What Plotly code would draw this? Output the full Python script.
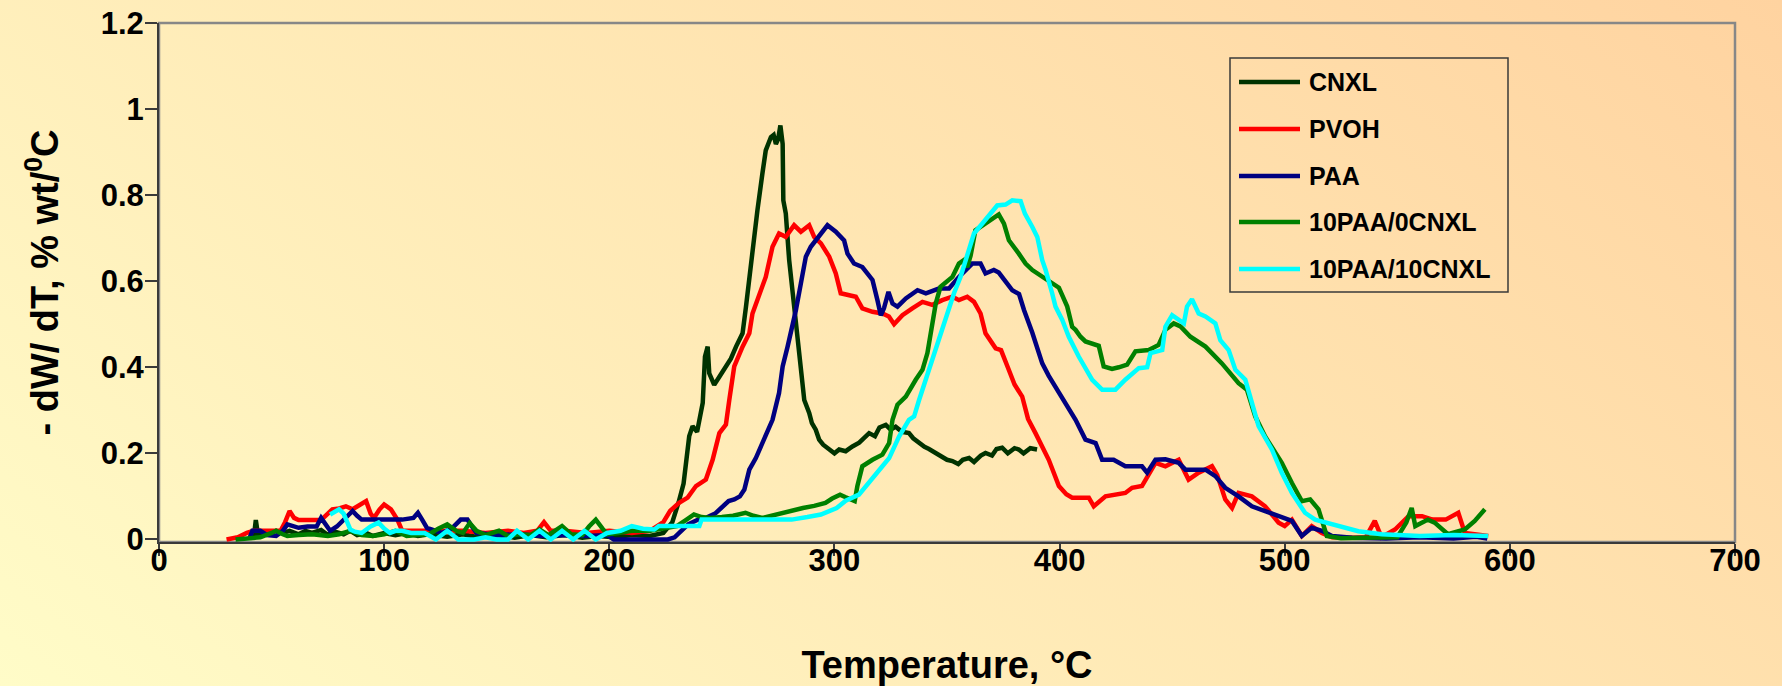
import base64
import plotly.graph_objects as go

# ---------------- data ----------------
cnxl_T = [42, 43, 44, 48, 52, 55, 58, 62, 65, 68, 72, 75, 78, 82, 85, 88, 92, 95, 100, 105,
          110, 115, 120, 128, 135, 142, 150, 158, 165, 172, 180, 188, 195, 202, 210, 218, 224,
          228, 231, 233, 235.5, 237, 239, 241.5, 242.5, 243.7, 244.4, 246.6, 248.9, 251.8, 254,
          256.3, 259.2, 260.7, 262, 263.6, 265.8, 268, 269.5, 271.8, 273, 274, 275, 276, 277,
          277.3, 278.4, 279.9, 281.4, 282.9, 285.1, 286.6, 288.8, 290, 291.7, 293.2, 295, 297.7,
          300, 302.1, 305, 308, 311, 315.4, 318, 320, 322.8, 325, 327.2, 330, 333.1, 335, 337.6,
          340, 342, 345, 348, 350, 352.4, 355, 357, 359.8, 362, 365, 367.1, 370, 372, 374.5, 377,
          380, 381.9, 384, 387, 390]
cnxl_Y = [0.0, 0.045, 0.01, 0.012, 0.02, 0.015, 0.02, 0.012, 0.02, 0.015, 0.022, 0.01, 0.018,
          0.012, 0.02, 0.01, 0.015, 0.008, 0.015, 0.01, 0.015, 0.008, 0.012, 0.006, 0.012, 0.005,
          0.01, 0.004, 0.01, 0.005, 0.01, 0.004, 0.008, 0.005, 0.01, 0.008, 0.015, 0.04, 0.09,
          0.13, 0.24, 0.263, 0.25, 0.317, 0.425, 0.448, 0.386, 0.359, 0.378, 0.40, 0.42, 0.448,
          0.479, 0.54, 0.60, 0.672, 0.765, 0.85, 0.904, 0.935, 0.94, 0.919, 0.93, 0.962, 0.919,
          0.788, 0.757, 0.649, 0.572, 0.494, 0.402, 0.324, 0.294, 0.27, 0.255, 0.232, 0.22,
          0.209, 0.20, 0.209, 0.205, 0.216, 0.225, 0.247, 0.24, 0.26, 0.266, 0.255, 0.262, 0.25,
          0.247, 0.235, 0.224, 0.215, 0.21, 0.201, 0.19, 0.185, 0.182, 0.175, 0.185, 0.189, 0.18,
          0.195, 0.201, 0.195, 0.21, 0.213, 0.2, 0.212, 0.209, 0.2, 0.212, 0.209]

pvoh_T = [30, 35, 39, 42, 48, 54, 56, 58, 60, 62, 67, 72, 75, 77, 80, 83, 86, 89, 92, 94, 95.5,
          98, 100, 103, 106, 108, 115, 125, 135, 145, 155, 162, 168, 171, 174, 180, 190, 200,
          210, 218, 224, 227, 231, 234.8, 238.5, 242.9, 245.9, 248.9, 251.8, 253.3, 255.5, 259.2,
          262.2, 263.6, 266.6, 269.5, 272.5, 275.4, 278.4, 280, 282.1, 285.1, 288.8, 291, 294,
          297.7, 300.6, 302.8, 306.5, 309.5, 312.4, 316.9, 321.3, 324.2, 326.5, 330.2, 334.6,
          339.1, 343.5, 347.9, 352.4, 355.3, 359, 362, 364.9, 367.1, 371.6, 374, 377, 380, 383.4,
          386, 389.3, 392, 395.2, 399.7, 403, 405.6, 413, 415.2, 420.4, 429.2, 432.2, 436.6,
          442.6, 447, 452.9, 457.3, 461.8, 467.7, 470, 473.6, 476.6, 479.5, 485.4, 491.3, 497.3,
          500, 503.2, 507.6, 512, 516.5, 521, 530, 536, 540, 543, 549, 555, 561, 565.6, 571.5,
          577.1, 580, 590.4]
pvoh_Y = [0.0, 0.005, 0.015, 0.02, 0.02, 0.02, 0.04, 0.066, 0.05, 0.045, 0.045, 0.045, 0.06,
          0.07, 0.072, 0.077, 0.07, 0.08, 0.089, 0.06, 0.05, 0.07, 0.081, 0.07, 0.045, 0.02, 0.02,
          0.018, 0.02, 0.015, 0.02, 0.015, 0.02, 0.04, 0.02, 0.02, 0.015, 0.02, 0.015, 0.02, 0.04,
          0.066, 0.085, 0.097, 0.124, 0.139, 0.185, 0.247, 0.267, 0.324, 0.402, 0.448, 0.479,
          0.525, 0.572, 0.61, 0.68, 0.711, 0.703, 0.715, 0.73, 0.715, 0.73, 0.703, 0.688, 0.657,
          0.618, 0.572, 0.568, 0.564, 0.537, 0.529, 0.525, 0.518, 0.50, 0.521, 0.537, 0.552,
          0.545, 0.556, 0.564, 0.556, 0.564, 0.552, 0.525, 0.479, 0.444, 0.44, 0.40, 0.36, 0.332,
          0.28, 0.247, 0.22, 0.185, 0.124, 0.105, 0.097, 0.097, 0.077, 0.10, 0.108, 0.12, 0.124,
          0.178, 0.17, 0.185, 0.139, 0.155, 0.17, 0.15, 0.093, 0.073, 0.108, 0.10, 0.077, 0.039,
          0.031, 0.046, 0.008, 0.031, 0.015, 0.005, 0.004, 0.005, 0.043, 0.005, 0.023, 0.054,
          0.054, 0.046, 0.046, 0.062, 0.015, 0.008]

paa_T = [40, 41.5, 45, 48, 52, 55, 57, 62, 66, 70, 72, 74, 76, 79, 82, 86, 88, 90, 100, 108,
         113, 115, 117, 119, 125.5, 130, 134, 137, 139, 141, 150, 160, 170, 180, 190, 199, 202,
         215, 226, 229, 232, 235, 239, 243, 247, 250, 253, 255.5, 258, 260, 262.2, 265.1, 268,
         272.5, 275.4, 277, 279.2, 281.4, 282.9, 285.1, 287.3, 289.5, 293.2, 296.9, 300.6, 304.3,
         305.8, 308.7, 312.4, 316.9, 319.1, 320.6, 322, 324, 325.8, 328, 331.7, 336.9, 340.6,
         346.4, 350.9, 355.3, 361.2, 364.9, 367.1, 370.8, 373, 376, 379, 382, 384.2, 387.9,
         392.3, 395.2, 398.2, 402.6, 407.1, 411.5, 416, 418.9, 424, 429.2, 436.6, 438.9, 442.6,
         447, 452.9, 455.9, 464.8, 469.2, 473.6, 479.5, 485.4, 491.3, 498.7, 503.2, 507.6, 512,
         516.5, 521, 530, 545, 560, 575, 585, 590]
paa_Y = [0.0, 0.02, 0.02, 0.01, 0.008, 0.02, 0.035, 0.027, 0.03, 0.03, 0.05, 0.035, 0.02, 0.03,
         0.046, 0.066, 0.055, 0.046, 0.046, 0.046, 0.05, 0.062, 0.045, 0.027, 0.015, 0.025, 0.046,
         0.046, 0.03, 0.015, 0.01, 0.012, 0.008, 0.01, 0.008, 0.01, 0.0, 0.0, 0.0, 0.005, 0.02,
         0.035, 0.045, 0.05, 0.06, 0.075, 0.089, 0.093, 0.1, 0.116, 0.162, 0.189, 0.224, 0.278,
         0.34, 0.402, 0.448, 0.494, 0.533, 0.595, 0.657, 0.68, 0.703, 0.73, 0.715, 0.695, 0.664,
         0.641, 0.633, 0.603, 0.556, 0.521, 0.537, 0.575, 0.548, 0.541, 0.56, 0.579, 0.572, 0.583,
         0.583, 0.61, 0.641, 0.641, 0.618, 0.626, 0.62, 0.599, 0.579, 0.57, 0.533, 0.48, 0.409,
         0.38, 0.355, 0.317, 0.278, 0.232, 0.224, 0.185, 0.185, 0.17, 0.17, 0.155, 0.185, 0.186,
         0.178, 0.162, 0.162, 0.147, 0.12, 0.10, 0.077, 0.066, 0.05, 0.043, 0.008, 0.027, 0.02,
         0.008, 0.004, 0.002, 0.005, 0.002, 0.006, 0.002]

p10c0_T = [34, 45, 50, 52, 55, 57, 62, 68, 75, 80, 85, 90, 95, 100, 105, 110, 115, 120, 124,
           128, 132, 135, 138, 141, 145, 151, 155, 160, 165, 169, 173, 179, 183, 188, 191, 194,
           197, 199, 204, 210, 218, 225, 230, 234, 237.6, 241, 245, 250, 255, 260.5, 264, 268,
           275, 280, 286, 291, 296, 299, 302.5, 305, 309, 310.2, 312.4, 316.9, 321.3, 324.3,
           325.8, 328, 331.7, 336.1, 339.1, 341.3, 343.5, 345, 347.1, 352.4, 355.3, 357.5, 359,
           360.5, 362.6, 367.1, 371, 373, 375.3, 377.5, 381.9, 384.9, 387.9, 392.3, 396, 399.7,
           403.4, 405.6, 407.1, 409.3, 411.5, 417.4, 419.6, 423.3, 426.3, 430, 433.7, 439.6, 444,
           447, 450.7, 453.7, 458.1, 464.8, 472.1, 479.5, 483.2, 486.9, 491.3, 498.7, 503.2,
           507.6, 511.3, 515, 518.7, 525, 535, 545, 550, 554, 556.4, 558, 563.6, 566.6, 572.5,
           580, 584.4, 588.9]
p10c0_Y = [0.0, 0.005, 0.015, 0.02, 0.012, 0.008, 0.01, 0.012, 0.008, 0.012, 0.02, 0.01, 0.008,
           0.012, 0.02, 0.008, 0.01, 0.012, 0.025, 0.035, 0.02, 0.015, 0.038, 0.02, 0.01, 0.02,
           0.008, 0.012, 0.01, 0.023, 0.01, 0.031, 0.012, 0.01, 0.03, 0.046, 0.025, 0.012, 0.015,
           0.02, 0.02, 0.025, 0.031, 0.045, 0.058, 0.052, 0.05, 0.052, 0.055, 0.062, 0.055, 0.05,
           0.06, 0.065, 0.073, 0.078, 0.085, 0.095, 0.104, 0.098, 0.089, 0.124, 0.17, 0.185,
           0.197, 0.224, 0.278, 0.313, 0.332, 0.371, 0.394, 0.433, 0.494, 0.548, 0.587, 0.61,
           0.641, 0.649, 0.633, 0.66, 0.718, 0.734, 0.75, 0.755, 0.734, 0.695, 0.664, 0.641,
           0.626, 0.61, 0.598, 0.585, 0.541, 0.494, 0.487, 0.471, 0.46, 0.45, 0.402, 0.396, 0.40,
           0.406, 0.437, 0.44, 0.452, 0.487, 0.502, 0.495, 0.471, 0.448, 0.409, 0.363, 0.348,
           0.286, 0.239, 0.178, 0.131, 0.089, 0.093, 0.07, 0.008, 0.003, 0.004, 0.003, 0.005,
           0.039, 0.073, 0.031, 0.046, 0.039, 0.012, 0.023, 0.043, 0.07]

p10c10_T = [76, 78, 80, 82, 85, 87, 90, 94, 97.5, 100, 102.6, 105, 108, 112, 118, 123, 128, 133,
            140, 145, 150, 155, 159, 164, 169, 174, 179, 184, 189, 194, 199, 205, 210, 215, 220,
            222, 230, 240, 241, 250, 260, 270, 281, 288, 294, 301, 305, 310.9, 315.4, 321.3,
            324.3, 328.7, 333.1, 335.4, 337.6, 340.6, 344.2, 347.1, 350.1, 353.1, 356, 359, 362,
            365.7, 369.4, 372.3, 376, 379, 382.7, 384.6, 387.9, 390.1, 392.3, 393.8, 396.7, 398.2,
            401.2, 404.1, 408.5, 414.5, 418.9, 424.8, 429.2, 435.2, 438.9, 440.4, 445.6, 447, 450,
            452.9, 455.2, 456.6, 458.8, 461.8, 464.8, 469.2, 471.4, 475.1, 478.1, 482.5, 485.4,
            488.4, 494.3, 498.7, 503.2, 509, 513.5, 520.9, 528.3, 532.7, 543.1, 560, 575, 590.4]
p10c10_Y = [0.058, 0.065, 0.07, 0.06, 0.023, 0.018, 0.015, 0.03, 0.039, 0.025, 0.015, 0.02, 0.02,
            0.015, 0.015, 0.0, 0.02, 0.0, 0.0, 0.005, 0.0, 0.0, 0.02, 0.0, 0.02, 0.0, 0.02, 0.0,
            0.02, 0.0, 0.015, 0.02, 0.031, 0.025, 0.023, 0.031, 0.031, 0.031, 0.046, 0.046, 0.046,
            0.046, 0.046, 0.052, 0.058, 0.073, 0.09, 0.104, 0.131, 0.17, 0.189, 0.239, 0.278,
            0.286, 0.324, 0.371, 0.433, 0.479, 0.525, 0.572, 0.61, 0.657, 0.711, 0.734, 0.757,
            0.776, 0.778, 0.788, 0.786, 0.757, 0.726, 0.703, 0.649, 0.626, 0.572, 0.541, 0.51,
            0.471, 0.425, 0.371, 0.348, 0.348, 0.371, 0.398, 0.40, 0.433, 0.44, 0.494, 0.521, 0.51,
            0.502, 0.541, 0.558, 0.525, 0.518, 0.502, 0.463, 0.44, 0.394, 0.371, 0.317, 0.263,
            0.209, 0.155, 0.108, 0.062, 0.046, 0.035, 0.023, 0.019, 0.012, 0.008, 0.01, 0.008]

series_names = ["CNXL", "PVOH", "PAA", "10PAA/0CNXL", "10PAA/10CNXL"]
series_colors = ["#003300", "#FF0000", "#000080", "#008000", "#00FFFF"]
series_T = [cnxl_T, pvoh_T, paa_T, p10c0_T, p10c10_T]
series_Y = [cnxl_Y, pvoh_Y, paa_Y, p10c0_Y, p10c10_Y]

x_ticks = [0, 100, 200, 300, 400, 500, 600, 700]
y_ticks = [0, 0.2, 0.4, 0.6, 0.8, 1.0, 1.2]
y_tick_text = ["0", "0.2", "0.4", "0.6", "0.8", "1", "1.2"]

# ---------------- figure ----------------
W, H = 1782, 686
ML, MR, MT, MB = 159, 47, 23, 144
PW, PH = W - ML - MR, H - MT - MB

fig = go.Figure()
for name, col, T, Y in zip(series_names, series_colors, series_T, series_Y):
    fig.add_trace(go.Scatter(x=T, y=Y, mode="lines", name=name,
                             line=dict(color=col, width=4.5), showlegend=False))

# gradient background as an svg image spanning the whole page
svg = ("<svg xmlns='http://www.w3.org/2000/svg' width='1782' height='686' "
       "viewBox='0 0 1782 686' preserveAspectRatio='none'><defs>"
       "<linearGradient id='g' gradientUnits='userSpaceOnUse' x1='0' y1='686' x2='1060' y2='-597'>"
       "<stop offset='0' stop-color='#FFFCC8'/><stop offset='1' stop-color='#FFD3A0'/>"
       "</linearGradient></defs><rect width='1782' height='686' fill='url(#g)'/></svg>")
src = "data:image/svg+xml;base64," + base64.b64encode(svg.encode()).decode()


def px_x(px):
    return (px - ML) / PW


def px_y(py):
    return 1 - (py - MT) / PH


shapes = [dict(type="rect", xref="paper", yref="paper", x0=0, x1=1, y0=0, y1=1,
               line=dict(color="#878787", width=2.5), layer="below")]
annotations = []
# legend box
shapes.append(dict(type="rect", xref="paper", yref="paper",
                   x0=px_x(1230), x1=px_x(1508), y0=px_y(292), y1=px_y(58),
                   line=dict(color="#3a3a3a", width=1.5)))
legend_rows = [82, 129, 176, 222, 269]
for name, col, ry in zip(series_names, series_colors, legend_rows):
    shapes.append(dict(type="line", xref="paper", yref="paper",
                       x0=px_x(1239), x1=px_x(1300), y0=px_y(ry), y1=px_y(ry),
                       line=dict(color=col, width=4.5)))
    annotations.append(dict(xref="paper", yref="paper", x=px_x(1307), y=px_y(ry),
                            xanchor="left", yanchor="middle", showarrow=False, text=name,
                            font=dict(size=25, weight="bold", color="black")))

axis_font = dict(family="Liberation Sans, Arial, sans-serif", size=31, weight="bold", color="black")
title_font = dict(family="Liberation Sans, Arial, sans-serif", size=38, weight="bold", color="black")

fig.update_layout(
    width=W, height=H, autosize=False,
    margin=dict(l=ML, r=MR, t=MT, b=MB, pad=0, autoexpand=False),
    paper_bgcolor="#FFE8B6", plot_bgcolor="rgba(0,0,0,0)",
    font=dict(family="Liberation Sans, Arial, sans-serif", color="black"),
    showlegend=False,
    images=[dict(source=src, xref="paper", yref="paper", x=-ML / PW, y=1 + MT / PH,
                 sizex=W / PW, sizey=H / PH, sizing="stretch", xanchor="left",
                 yanchor="top", layer="below")],
    shapes=shapes, annotations=annotations,
    xaxis=dict(range=[0, 700], tickvals=x_ticks, ticks="outside", ticklen=12, tickwidth=2,
               tickcolor="#3a3a3a", showline=True, linecolor="#3a3a3a", linewidth=2,
               showgrid=False, zeroline=False, tickfont=axis_font, layer="below traces",
               ticklabelstandoff=-22, automargin=False,
               title=dict(text="Temperature, °C", font=title_font, standoff=74)),
    yaxis=dict(range=[-0.006, 1.2], tickvals=y_ticks, ticktext=y_tick_text, ticks="outside",
               ticklen=12, tickwidth=2, tickcolor="#3a3a3a", showline=True,
               linecolor="#3a3a3a", linewidth=2, showgrid=False, zeroline=False,
               tickfont=axis_font, layer="below traces", ticklabelstandoff=-5, automargin=False,
               title=dict(text="- dW/ dT, % wt/<sup>0</sup>C", font=title_font, standoff=30)),
)

fig.write_html("out.html", config={"displayModeBar": False},
               post_script="document.body.style.margin='0';document.body.style.overflow='hidden';")
